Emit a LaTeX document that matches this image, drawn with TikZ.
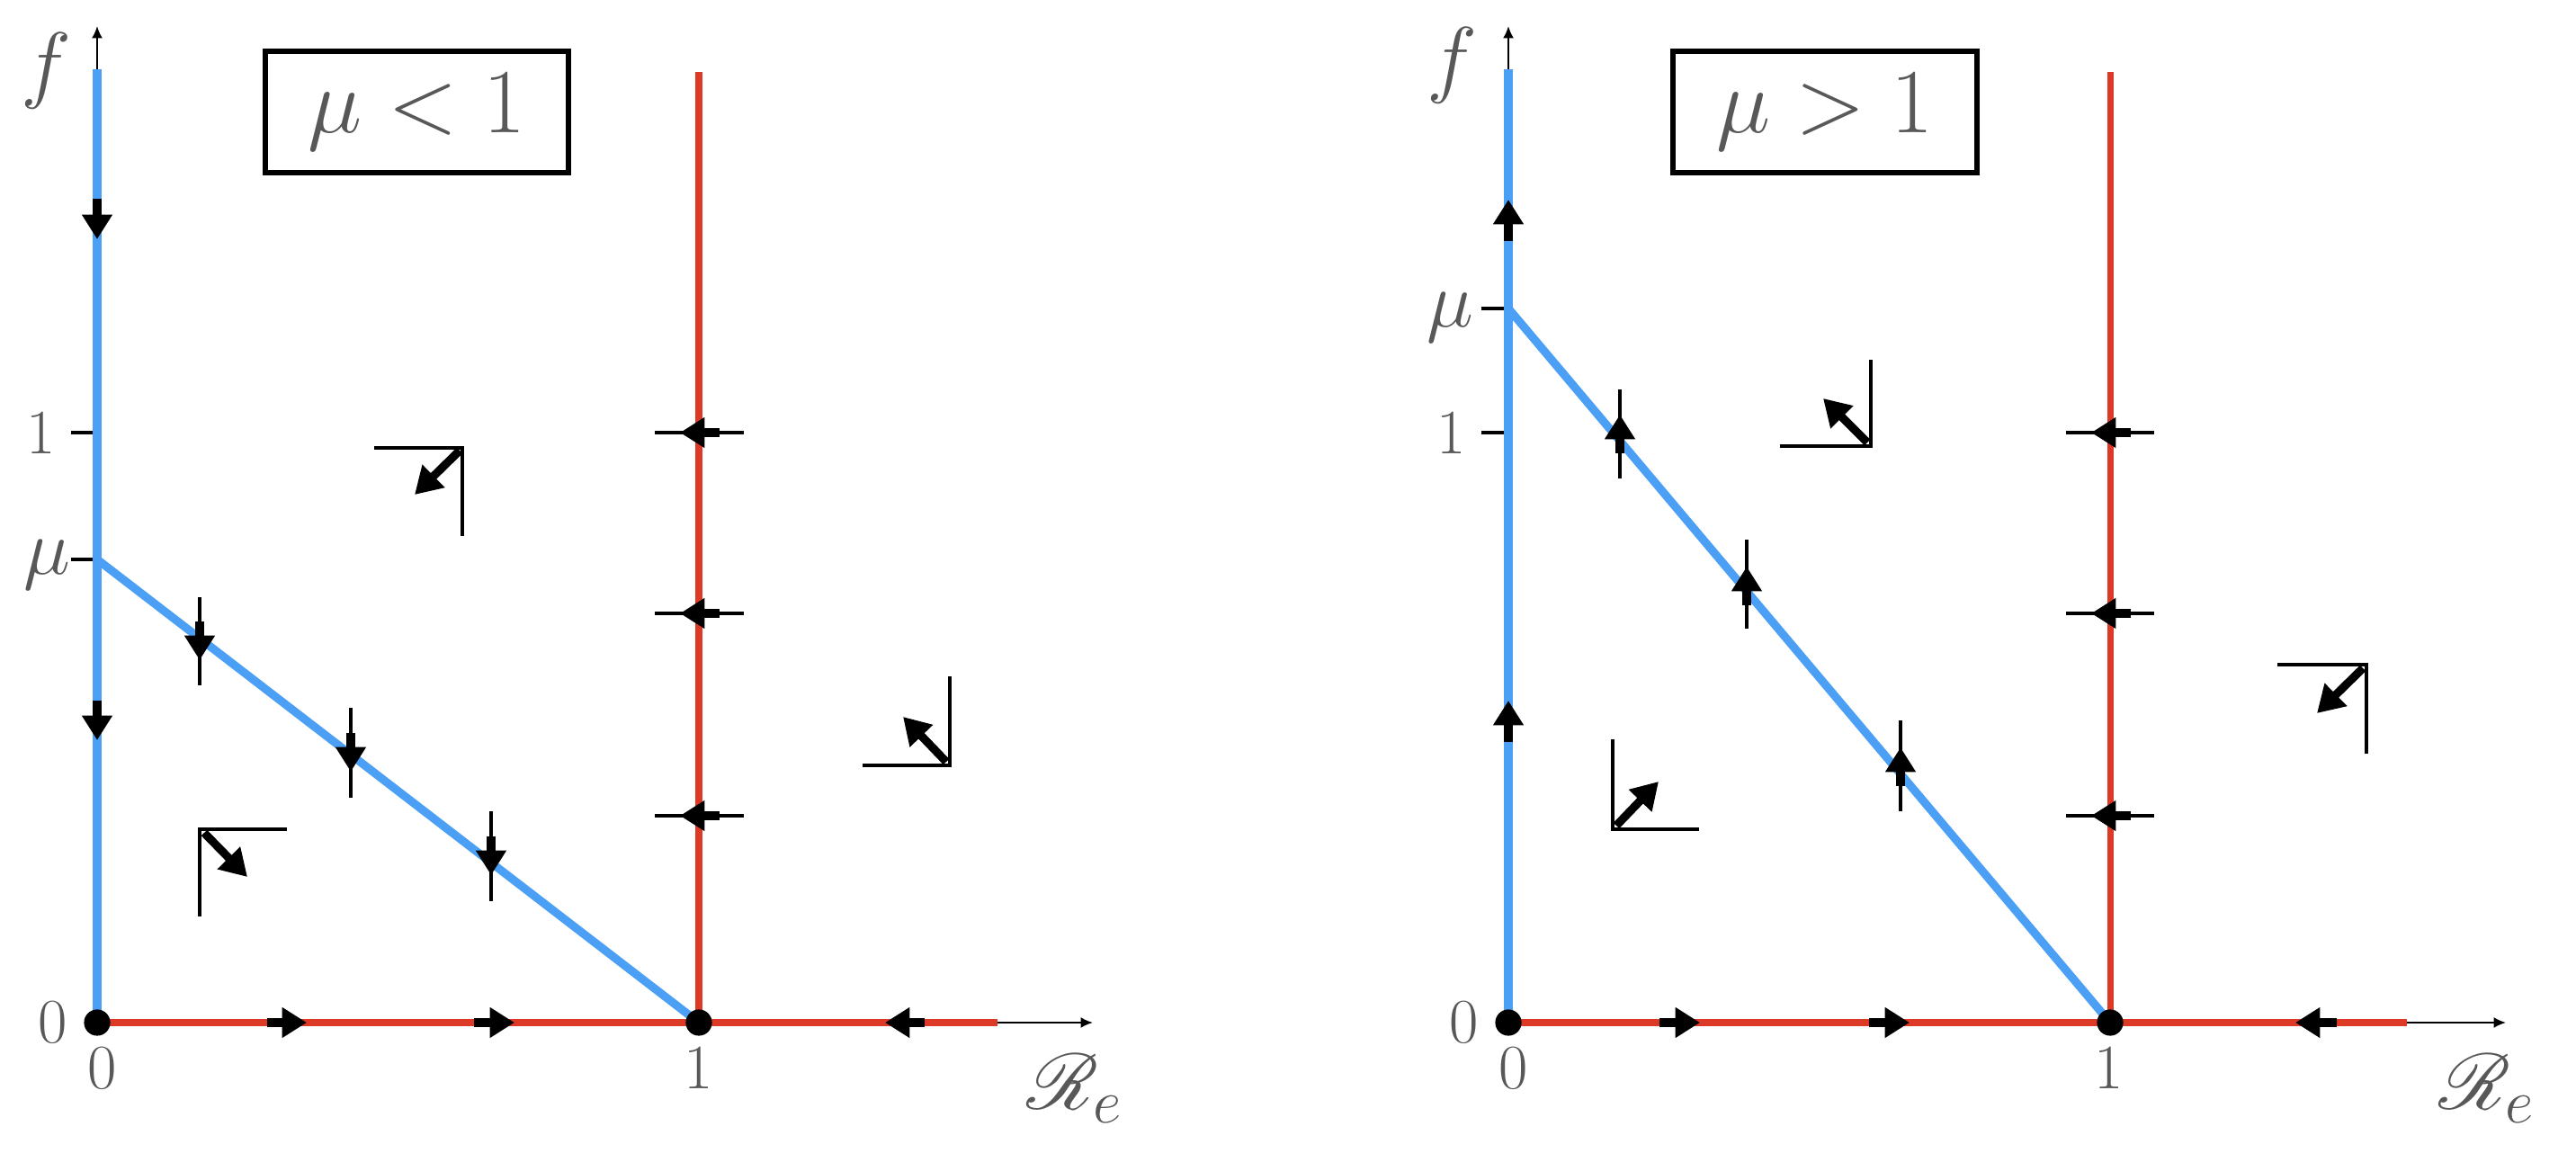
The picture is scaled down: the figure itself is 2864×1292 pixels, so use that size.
\RequirePackage{fix-cm}
\documentclass[tikz,border=0pt]{standalone}
\usepackage{mathrsfs}
\usetikzlibrary{arrows.meta}
\definecolor{nullblue}{HTML}{4BA0F5}
\definecolor{nullred}{HTML}{DC3A26}
\definecolor{labgray}{HTML}{585858}
\tikzset{
  axisline/.style={line width=0.6pt, -{Latex[length=3.8pt,width=3.4pt]}},
  bluenull/.style={nullblue, line width=2.6pt},
  redv/.style={nullred, line width=2pt},
  redh/.style={nullred, line width=2.4pt},
  tickmark/.style={line width=1.3pt},
  thinmark/.style={line width=1pt},
  flowarr/.style={line width=2.6pt, -{Triangle[length=7.8pt,width=9.2pt]}},
  dirarr/.style={line width=2.6pt, -{Triangle[length=8.4pt,width=9.6pt]}},
  fixdot/.style={circle, fill=black, inner sep=0pt, minimum size=8.3pt},
  lab/.style={text=labgray, inner sep=0pt, font=\fontsize{20}{24}\selectfont},
  mulab/.style={text=labgray, inner sep=0pt, font=\fontsize{25}{29}\selectfont},
  flab/.style={text=labgray, inner sep=0pt, font=\fontsize{27}{31}\selectfont},
  axlab/.style={text=labgray, inner sep=0pt, font=\fontsize{28}{32}\selectfont},
  regbox/.style={draw, line width=1.7pt, text=labgray, minimum width=3.37cm, minimum height=1.35cm, inner sep=0pt, font=\fontsize{29}{34}\selectfont}
}
\begin{document}
\begin{tikzpicture}[x=0.01cm,y=-0.01cm]
\useasboundingbox (0,0) rectangle (2864,1292);
% ================= LEFT PANEL (mu < 1) =================
\coordinate (LO) at (108,1137);
\coordinate (L1) at (777,1137);
\coordinate (Lmu) at (108,622);
% axes
\draw[axisline] (LO) -- (108,29);
\draw[axisline] (LO) -- (1215,1137);
% ticks
\draw[tickmark] (79,481) -- (108,481);
\draw[tickmark] (79,622) -- (108,622);
% nullclines
\draw[redh] (LO) -- (1109,1137);
\draw[redv] (777,80) -- (L1);
\draw[bluenull] (108,77) -- (LO);
\draw[bluenull, line cap=round] (Lmu) -- (L1);
% crossing markers on diagonal
\draw[thinmark] (222,664) -- (222,762);
\draw[thinmark] (390,787) -- (390,887);
\draw[thinmark] (546,902) -- (546,1002);
\draw[flowarr] (222,691) -- (222,734);
\draw[flowarr] (390,815) -- (390,858);
\draw[flowarr] (546,930) -- (546,973);
% crossing markers on red vertical
\foreach \yy in {481,682,907}{
  \draw[thinmark] (728,\yy) -- (827,\yy);
  \draw[flowarr] (800,\yy) -- (756,\yy);
}
% arrows on blue vertical
\draw[flowarr] (108,221) -- (108,266);
\draw[flowarr] (108,779) -- (108,823);
% arrows on x axis
\draw[flowarr] (297,1137) -- (341,1137);
\draw[flowarr] (527,1137) -- (572,1137);
\draw[flowarr] (1028,1137) -- (984,1137);
% direction glyphs
\draw[thinmark] (416,498) -- (514,498) -- (514,596);
\draw[dirarr] (511,501) -- (461,550);
\draw[thinmark] (319,922) -- (222,922) -- (222,1019);
\draw[dirarr] (227,926) -- (275,975);
\draw[thinmark] (1056,752) -- (1056,851) -- (959,851);
\draw[dirarr] (1052,847) -- (1004,797);
% fixed points
\node[fixdot] (LdotO) at (LO) {};
\node[fixdot] (Ldot1) at (L1) {};
% labels
\node[flab] (Lf) at (51,79) {$f$};
\node[lab] (Lt1) at (46,482) {$1$};
\node[mulab] (Ltmu) at (52,628) {$\mu$};
\node[lab] (Lt0) at (59,1137) {$0$};
\node[lab] (Lx0) at (114,1188) {$0$};
\node[lab] (Lx1) at (777,1188) {$1$};
\node[axlab] (LR) at (1195,1210) {$\mathscr{R}_e$};
\node[regbox] (Lbox) at (463.5,124.5) {$\mu < 1$};
% ================= RIGHT PANEL (mu > 1) =================
\coordinate (RO) at (1677,1137);
\coordinate (R1) at (2346,1137);
\coordinate (Rmu) at (1677,343);
\draw[axisline] (RO) -- (1677,29);
\draw[axisline] (RO) -- (2786,1137);
\draw[tickmark] (1647,481) -- (1677,481);
\draw[tickmark] (1647,343) -- (1677,343);
\draw[redh] (RO) -- (2676,1137);
\draw[redv] (2346,80) -- (R1);
\draw[bluenull] (1677,77) -- (RO);
\draw[bluenull, line cap=round] (Rmu) -- (R1);
% crossing markers on diagonal
\draw[thinmark] (1801,433) -- (1801,532);
\draw[thinmark] (1942,600) -- (1942,699);
\draw[thinmark] (2113,801) -- (2113,902);
\draw[flowarr] (1801,504) -- (1801,461);
\draw[flowarr] (1942,673) -- (1942,630);
\draw[flowarr] (2113,874) -- (2113,831);
% crossing markers on red vertical
\foreach \yy in {481,682,907}{
  \draw[thinmark] (2297,\yy) -- (2395,\yy);
  \draw[flowarr] (2369,\yy) -- (2325,\yy);
}
% arrows on blue vertical
\draw[flowarr] (1677,268) -- (1677,222);
\draw[flowarr] (1677,825) -- (1677,779);
% arrows on x axis
\draw[flowarr] (1845,1137) -- (1890,1137);
\draw[flowarr] (2078,1137) -- (2123,1137);
\draw[flowarr] (2598,1137) -- (2552,1137);
% direction glyphs
\draw[thinmark] (2080,400) -- (2080,496) -- (1979,496);
\draw[dirarr] (2076,492) -- (2027,443);
\draw[thinmark] (1793,822) -- (1793,922) -- (1889,922);
\draw[dirarr] (1797,918) -- (1844,869);
\draw[thinmark] (2532,739) -- (2631,739) -- (2631,838);
\draw[dirarr] (2627,743) -- (2576,793);
% fixed points
\node[fixdot] (RdotO) at (RO) {};
\node[fixdot] (Rdot1) at (R1) {};
% labels
\node[flab] (Rf) at (1614,73) {$f$};
\node[lab] (Rt1) at (1614,482) {$1$};
\node[mulab] (Rtmu) at (1612,353) {$\mu$};
\node[lab] (Rt0) at (1628,1137) {$0$};
\node[lab] (Rx0) at (1683,1188) {$0$};
\node[lab] (Rx1) at (2345,1188) {$1$};
\node[axlab] (RR) at (2765,1210) {$\mathscr{R}_e$};
\node[regbox] (Rbox) at (2029,124.5) {$\mu > 1$};
\end{tikzpicture}
\end{document}
